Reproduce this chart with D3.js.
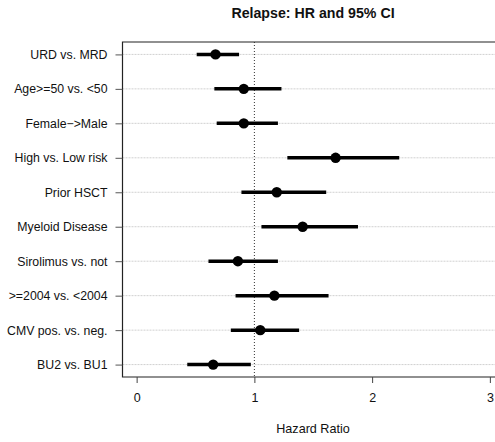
<!DOCTYPE html>
<html>
<head>
<meta charset="utf-8">
<script src="https://cdn.jsdelivr.net/npm/d3@7"></script>
<style>
  body { margin: 0; background: #fff; }
  text { font-family: "Liberation Sans", Arial, sans-serif; fill: #111; }
</style>
</head>
<body>
<div id="chart"></div>
<script>
const width = 495;
const height = 442;

const labels = ["URD vs. MRD", "Age>=50 vs. <50", "Female\u2212>Male", "High vs. Low risk",
  "Prior HSCT", "Myeloid Disease", "Sirolimus vs. not", ">=2004 vs. <2004",
  "CMV pos. vs. neg.", "BU2 vs. BU1"];
const hr = [0.67, 0.91, 0.91, 1.69, 1.19, 1.41, 0.86, 1.17, 1.05, 0.65];
const lower = [0.51, 0.66, 0.68, 1.28, 0.89, 1.06, 0.61, 0.84, 0.80, 0.43];
const upper = [0.87, 1.23, 1.20, 2.23, 1.61, 1.88, 1.20, 1.63, 1.38, 0.97];
const xTicks = [0, 1, 2, 3];

const plotLeft = 122.5, plotRight = 504, plotTop = 42, plotBottom = 377;

const svg = d3.select("#chart")
  .append("svg")
  .attr("width", width)
  .attr("height", height);

const xScale = d3.scaleLinear()
  .domain([-0.12, 3.12])
  .range([plotLeft, plotRight]);

// rows from top to bottom, with R-style 4% padding
const yScale = d3.scaleLinear()
  .domain([-0.36, 9.36])
  .range([plotTop, plotBottom]);

const rows = labels.map((d, i) => ({ label: d, hr: hr[i], lo: lower[i], hi: upper[i], i: i }));

// grid lines
svg.append("g")
  .selectAll("line")
  .data(rows)
  .join("line")
  .attr("x1", plotLeft)
  .attr("x2", width)
  .attr("y1", d => yScale(d.i))
  .attr("y2", d => yScale(d.i))
  .attr("stroke", "#d0d0d0")
  .attr("stroke-width", 1)
  .attr("stroke-dasharray", "2,1");

// reference line at HR = 1
svg.append("line")
  .attr("x1", xScale(1))
  .attr("x2", xScale(1))
  .attr("y1", plotTop)
  .attr("y2", plotBottom)
  .attr("stroke", "#333")
  .attr("stroke-width", 1)
  .attr("stroke-dasharray", "1,2");

// frame (left, top, bottom)
svg.append("path")
  .attr("d", `M${width},${plotTop}H${plotLeft}V${plotBottom}H${width}`)
  .attr("fill", "none")
  .attr("stroke", "#222")
  .attr("stroke-width", 1.2);

const xAxis = d3.axisBottom(xScale)
  .tickValues(xTicks)
  .tickSize(6)
  .tickPadding(10)
  .tickFormat(d3.format("d"));

svg.append("g")
  .attr("transform", `translate(0, ${plotBottom})`)
  .call(xAxis)
  .call(g => g.select(".domain").remove())
  .call(g => g.selectAll("line").attr("stroke", "#444"))
  .call(g => g.selectAll("text").attr("font-size", 12.5).attr("fill", "#111")
    .attr("font-family", "Liberation Sans, Arial, sans-serif"));

const yAxis = d3.axisLeft(yScale)
  .tickValues(rows.map(d => d.i))
  .tickSize(7)
  .tickPadding(8)
  .tickFormat(i => labels[i]);

svg.append("g")
  .attr("transform", `translate(${plotLeft}, 0)`)
  .call(yAxis)
  .call(g => g.select(".domain").remove())
  .call(g => g.selectAll("line").attr("stroke", "#555"))
  .call(g => g.selectAll("text").attr("font-size", 12.3).attr("fill", "#111")
    .attr("font-family", "Liberation Sans, Arial, sans-serif"));

// confidence intervals
svg.append("g")
  .selectAll("line")
  .data(rows)
  .join("line")
  .attr("x1", d => xScale(d.lo))
  .attr("x2", d => xScale(d.hi))
  .attr("y1", d => yScale(d.i))
  .attr("y2", d => yScale(d.i))
  .attr("stroke", "#000")
  .attr("stroke-width", 3.5);

// point estimates
svg.append("g")
  .selectAll("circle")
  .data(rows)
  .join("circle")
  .attr("cx", d => xScale(d.hr))
  .attr("cy", d => yScale(d.i))
  .attr("r", 5.2)
  .attr("fill", "#000");

svg.append("text")
  .attr("x", 313)
  .attr("y", 18)
  .attr("text-anchor", "middle")
  .attr("font-size", 14.2)
  .attr("font-weight", "bold")
  .text("Relapse: HR and 95% CI");

svg.append("text")
  .attr("x", 313)
  .attr("y", 433)
  .attr("text-anchor", "middle")
  .attr("font-size", 12.6)
  .text("Hazard Ratio");
</script>
</body>
</html>
